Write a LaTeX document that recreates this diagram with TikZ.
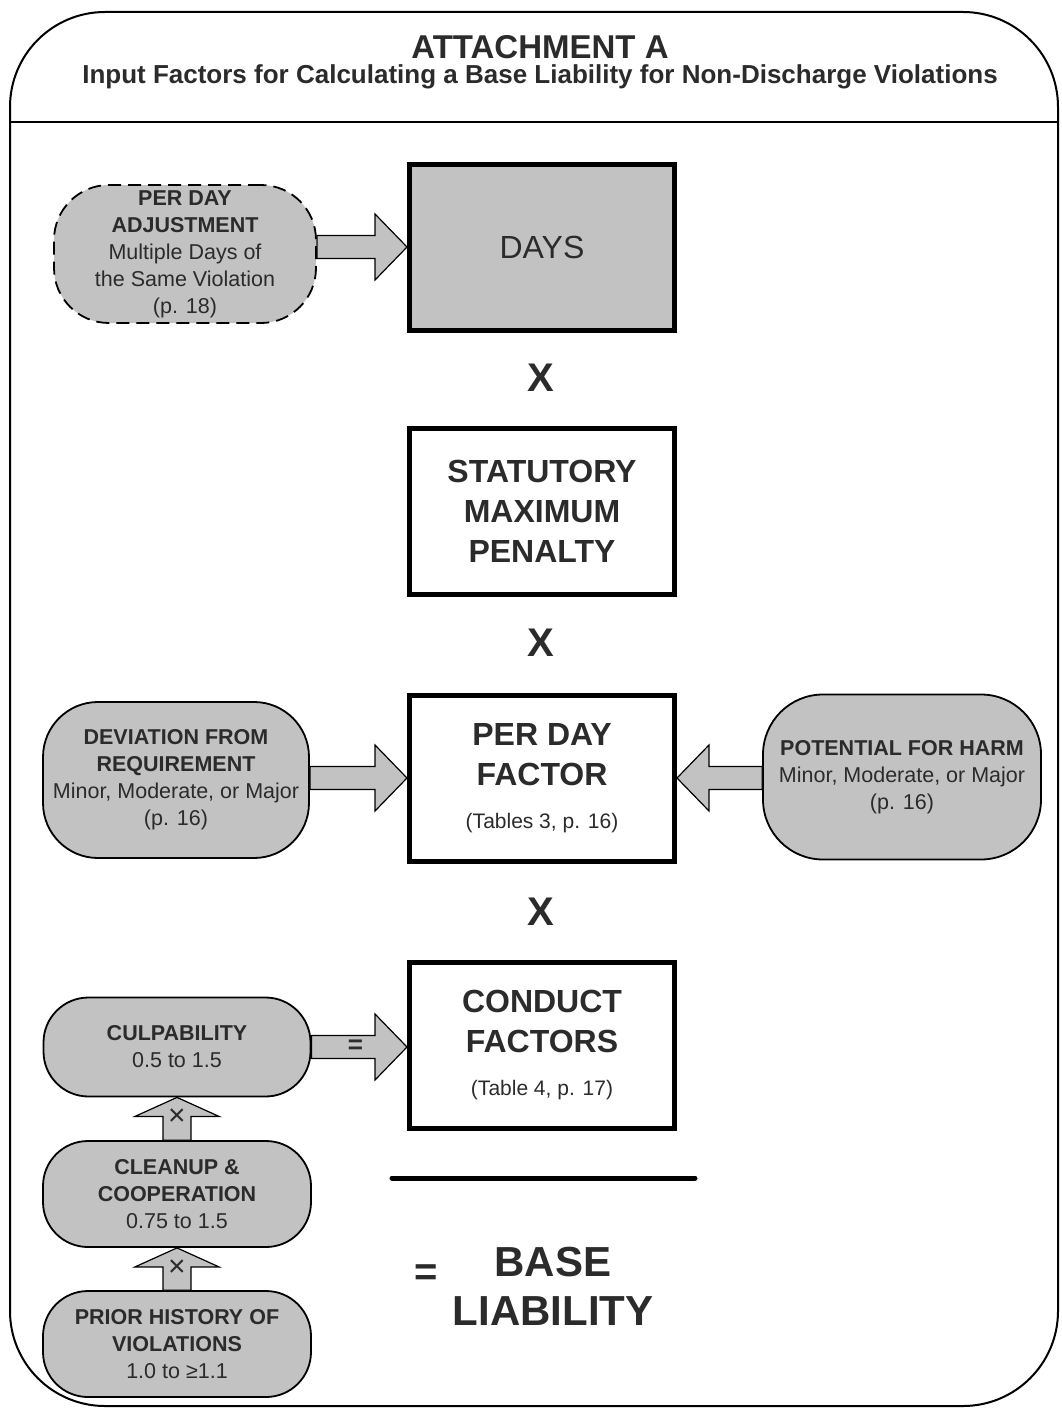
\documentclass[tikz,border=0pt]{standalone}
\usepackage{fontspec}
\setmainfont{Liberation Sans}
\usetikzlibrary{calc}

\definecolor{boxgray}{gray}{0.76}
\definecolor{ink}{gray}{0.17}
\newcommand{\fs}[2]{\fontsize{#1pt}{#2pt}\selectfont}

\begin{document}
\begin{tikzpicture}[
  x=1pt, y=-1pt,
  mainbox/.style={draw=black, line width=5pt, minimum width=265pt, minimum height=166pt, inner sep=0pt, align=center, text=ink, font=\fs{32}{40}\bfseries},
  factor/.style={draw=black, line width=1.8pt, fill=boxgray, rounded corners=#1, inner sep=0pt, align=center, text=ink, font=\fs{21.5}{27}},
  factor/.default=45pt,
  op/.style={text=ink, inner sep=0pt, align=center, font=\fs{40}{44}\bfseries},
  tag/.style={text=ink, inner sep=0pt},
  blockarr/.style n args={3}{draw=black, line width=1.2pt, fill=boxgray,
    to path={($(\tikztotarget)!#3!(\tikztostart)$) coordinate (arrbase)
      ($(\tikztostart)!#1!90:(\tikztotarget)$)
      -- ($(arrbase)!#1!90:(\tikztotarget)$)
      -- ($(arrbase)!#2!90:(\tikztotarget)$)
      -- (\tikztotarget)
      -- ($(arrbase)!#2!-90:(\tikztotarget)$)
      -- ($(arrbase)!#1!-90:(\tikztotarget)$)
      -- ($(\tikztostart)!#1!-90:(\tikztotarget)$)
      -- cycle}},
  harr/.style={blockarr={11.5pt}{33pt}{32pt}},
  varr/.style={blockarr={14pt}{42pt}{19pt}}]

\useasboundingbox (0,0) rectangle (1061,1410);

% ---------- frame and heading
\draw[line width=2pt, rounded corners=95pt] (10,12) rectangle (1058,1406);
\draw[line width=1.5pt] (10,122) -- (1058,122);
\node[text=ink, font=\fs{33}{38}\bfseries] (title) at (540,47) {ATTACHMENT A};
\node[text=ink, font=\fs{26}{30}\bfseries] (subtitle) at (540,77) {Input Factors for Calculating a Base Liability for Non-Discharge Violations};

% ---------- centre column
\node[mainbox, fill=boxgray, font=\fs{32}{40}] (days) at (542,247) {DAYS};
\node[op] (x1) at (541,378) {X};
\node[mainbox] (stat) at (542,511.5) {STATUTORY\\MAXIMUM\\PENALTY};
\node[op] (x2) at (541,643) {X};
\node[mainbox] (perday) at (542,778) {PER DAY\\FACTOR\\[3pt]{\fs{21}{26}\mdseries (Tables 3, p. 16)}};
\node[op] (x3) at (541,912) {X};
\node[mainbox] (conduct) at (542,1045) {CONDUCT\\FACTORS\\[3pt]{\fs{21}{26}\mdseries (Table 4, p. 17)}};

% ---------- result
\draw[line width=5pt, line cap=round] (392,1178) -- (695,1178);
\node[op] (eq) at (426,1275) {=};
\node[op, font=\fs{42}{49}\bfseries] (base) at (553,1286) {BASE\\LIABILITY};

% ---------- input factors
\node[factor=55pt, dash pattern=on 13pt off 7pt, minimum width=262pt, minimum height=138pt] (adj) at (185,254)
  {\textbf{PER DAY}\\\textbf{ADJUSTMENT}\\Multiple Days of\\the Same Violation\\(p. 18)};
\node[factor=55pt, minimum width=266pt, minimum height=156pt] (dev) at (176,780)
  {\textbf{DEVIATION FROM}\\\textbf{REQUIREMENT}\\Minor, Moderate, or Major\\(p. 16)};
\node[factor=60pt, minimum width=278pt, minimum height=165pt] (harm) at (902,777)
  {\textbf{POTENTIAL FOR HARM}\\Minor, Moderate, or Major\\(p. 16)};
\node[factor, minimum width=267pt, minimum height=99pt] (culp) at (177,1047)
  {\textbf{CULPABILITY}\\0.5 to 1.5};
\node[factor, minimum width=268pt, minimum height=106pt] (clean) at (177,1194)
  {\textbf{CLEANUP \&}\\\textbf{COOPERATION}\\0.75 to 1.5};
\node[factor, minimum width=268pt, minimum height=106pt] (prior) at (177,1344)
  {\textbf{PRIOR HISTORY OF}\\\textbf{VIOLATIONS}\\1.0 to ≥1.1};

% ---------- block arrows
\draw[harr] (adj.east |- days.west) to (days.west);
\draw[harr] (dev.east |- perday.west) to (perday.west);
\draw[harr] (harm.west |- perday.east) to (perday.east);
\draw[harr] (culp.east) to (conduct.west |- culp.east);
\draw[varr] (clean.north) to (culp.south);
\draw[varr] (prior.north) to (clean.south);
\node[tag, font=\fs{26}{26}\bfseries] (eqsign) at ($(culp.east)!44pt!(conduct.west |- culp.east)$) {=};
\node[tag, font=\fs{30}{30}] (times1) at ($(culp.south)!20pt!(clean.north)$) {×};
\node[tag, font=\fs{30}{30}] (times2) at ($(clean.south)!20pt!(prior.north)$) {×};
\end{tikzpicture}
\end{document}
